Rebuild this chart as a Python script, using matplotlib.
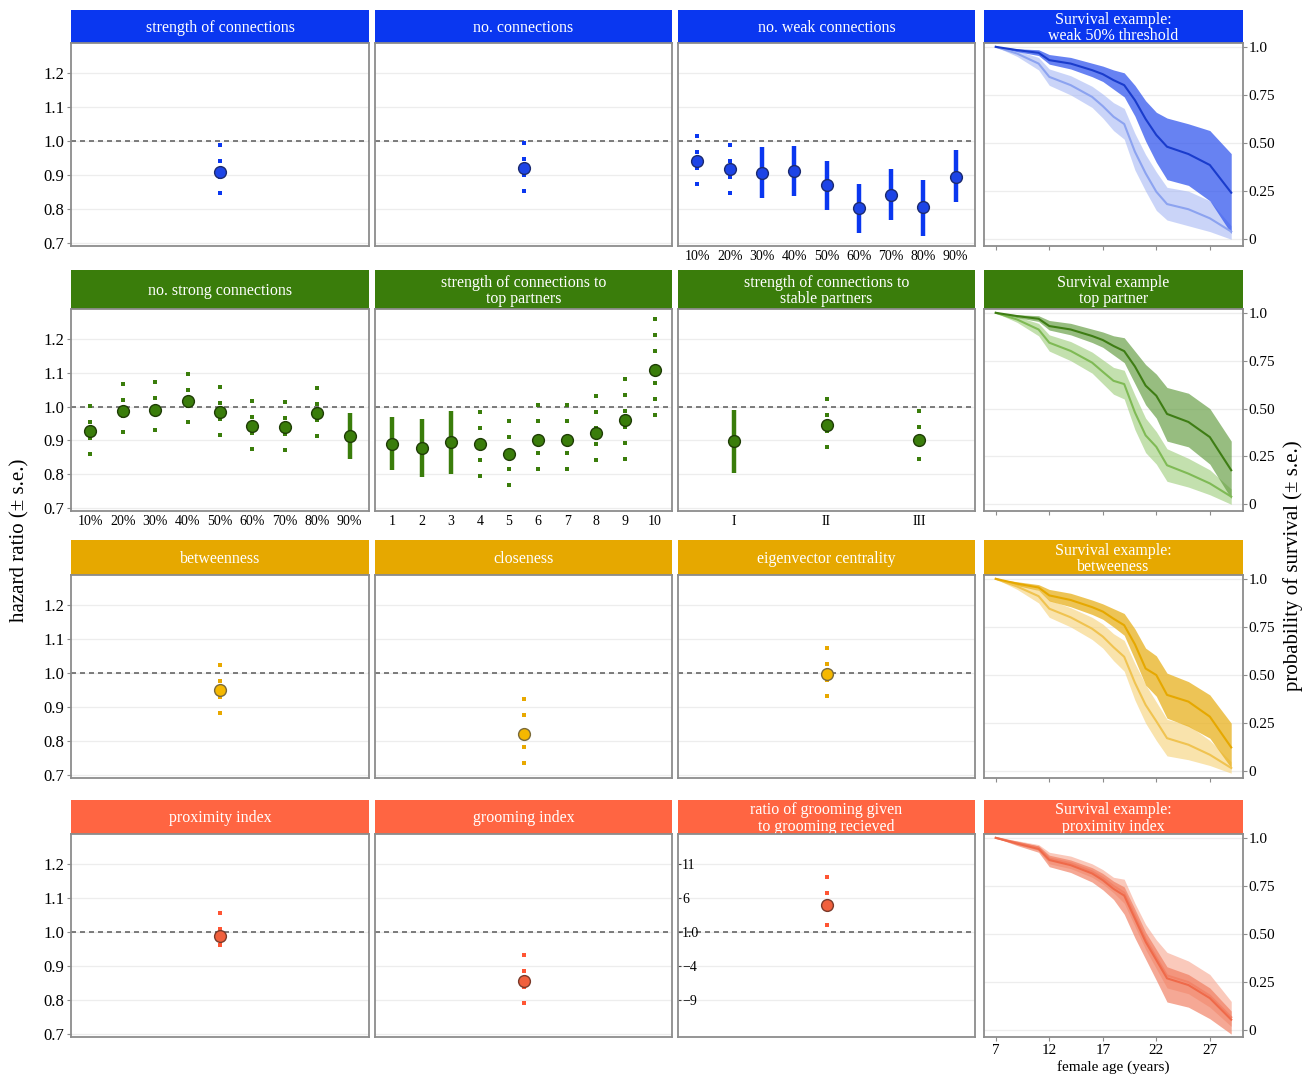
import numpy as np
import matplotlib.pyplot as plt

plt.rcParams['font.family'] = ['Liberation Serif', 'DejaVu Serif']

W, H = 1314, 1077

# ---------------- data ----------------
pct_labels = ['10%', '20%', '30%', '40%', '50%', '60%', '70%', '80%', '90%']
top_labels = ['1', '2', '3', '4', '5', '6', '7', '8', '9', '10']
stable_labels = ['I', 'II', 'III']

# hazard ratio panels: estimate, lower, upper, solid (True) or dotted bar
strength_est, strength_lo, strength_hi = [0.91], [0.84], [0.99]
nconn_est, nconn_lo, nconn_hi = [0.92], [0.85], [0.995]

weak_est = [0.941, 0.917, 0.907, 0.913, 0.871, 0.802, 0.841, 0.804, 0.895]
weak_lo = [0.871, 0.845, 0.831, 0.838, 0.797, 0.728, 0.768, 0.721, 0.819]
weak_hi = [1.015, 0.988, 0.983, 0.987, 0.942, 0.874, 0.918, 0.885, 0.974]
weak_solid = [False, False, True, True, True, True, True, True, True]

strong_est = [0.927, 0.986, 0.991, 1.018, 0.984, 0.943, 0.940, 0.980, 0.912]
strong_lo = [0.859, 0.925, 0.929, 0.955, 0.915, 0.873, 0.871, 0.911, 0.844]
strong_hi = [1.003, 1.068, 1.073, 1.098, 1.059, 1.017, 1.015, 1.056, 0.981]
strong_solid = [False] * 8 + [True]

top_est = [0.890, 0.876, 0.894, 0.890, 0.859, 0.902, 0.902, 0.922, 0.959, 1.109]
top_lo = [0.812, 0.791, 0.801, 0.793, 0.765, 0.812, 0.812, 0.839, 0.841, 0.971]
top_hi = [0.968, 0.963, 0.988, 0.984, 0.957, 1.005, 1.005, 1.032, 1.081, 1.259]
top_solid = [True, True, True] + [False] * 7

stable_est = [0.897, 0.945, 0.901]
stable_lo = [0.804, 0.881, 0.842]
stable_hi = [0.989, 1.024, 0.986]
stable_solid = [True, False, False]

betw_est, betw_lo, betw_hi = [0.95], [0.88], [1.024]
close_est, close_lo, close_hi = [0.821], [0.731], [0.923]
eigen_est, eigen_lo, eigen_hi = [0.996], [0.927], [1.073]
prox_est, prox_lo, prox_hi = [0.988], [0.955], [1.056]
groom_est, groom_lo, groom_hi = [0.856], [0.787], [0.931]
ratio_est, ratio_lo, ratio_hi = [4.97], [1.9], [9.1]

hr_ticks = [0.7, 0.8, 0.9, 1.0, 1.1, 1.2]
hr_ticklabels = ['0.7', '0.8', '0.9', '1.0', '1.1', '1.2']
ratio_ticks = [-9, -4, 1, 6, 11]
ratio_ticklabels = ['\u22129', '\u22124', '1.0', '6', '11']

# survival examples
ages = [7, 9, 11, 12, 14, 16, 17, 18, 19, 20, 21, 22, 23, 25, 27, 29]
age_ticks = [7, 12, 17, 22, 27]
surv_ticks = [0, 0.25, 0.5, 0.75, 1.0]
surv_ticklabels = ['0', '0.25', '0.50', '0.75', '1.0']

blue_dark = [1.0, 0.983, 0.969, 0.931, 0.913, 0.879, 0.858, 0.827, 0.801, 0.723, 0.625, 0.542, 0.481, 0.443, 0.386, 0.242]
blue_dark_hi = [1.0, 0.99, 0.985, 0.96, 0.945, 0.915, 0.90, 0.88, 0.865, 0.80, 0.72, 0.66, 0.63, 0.60, 0.565, 0.445]
blue_dark_lo = [1.0, 0.975, 0.955, 0.91, 0.885, 0.845, 0.82, 0.78, 0.74, 0.64, 0.51, 0.40, 0.31, 0.28, 0.20, 0.03]
blue_light = [1.0, 0.965, 0.913, 0.844, 0.801, 0.740, 0.692, 0.637, 0.599, 0.455, 0.343, 0.247, 0.183, 0.156, 0.109, 0.040]
blue_light_hi = [1.0, 0.98, 0.945, 0.885, 0.85, 0.795, 0.755, 0.71, 0.68, 0.55, 0.44, 0.35, 0.27, 0.25, 0.20, 0.07]
blue_light_lo = [1.0, 0.95, 0.88, 0.80, 0.75, 0.685, 0.63, 0.565, 0.52, 0.36, 0.25, 0.15, 0.10, 0.07, 0.04, 0.0]

green_dark = [1.0, 0.983, 0.969, 0.931, 0.913, 0.879, 0.858, 0.827, 0.80, 0.72, 0.62, 0.567, 0.472, 0.43, 0.351, 0.178]
green_dark_hi = [1.0, 0.99, 0.985, 0.96, 0.945, 0.915, 0.90, 0.88, 0.87, 0.80, 0.73, 0.68, 0.61, 0.58, 0.50, 0.33]
green_dark_lo = [1.0, 0.975, 0.955, 0.91, 0.885, 0.845, 0.82, 0.78, 0.74, 0.63, 0.52, 0.45, 0.33, 0.30, 0.21, 0.03]
green_light = [1.0, 0.965, 0.913, 0.844, 0.801, 0.740, 0.692, 0.645, 0.628, 0.48, 0.36, 0.30, 0.204, 0.16, 0.109, 0.04]
green_light_hi = [1.0, 0.98, 0.945, 0.885, 0.85, 0.795, 0.755, 0.715, 0.70, 0.57, 0.45, 0.38, 0.29, 0.24, 0.18, 0.08]
green_light_lo = [1.0, 0.95, 0.88, 0.80, 0.75, 0.685, 0.63, 0.575, 0.55, 0.39, 0.27, 0.21, 0.12, 0.09, 0.05, 0.0]

yellow_dark = [1.0, 0.975, 0.955, 0.914, 0.89, 0.853, 0.83, 0.793, 0.759, 0.66, 0.534, 0.50, 0.397, 0.362, 0.284, 0.124]
yellow_dark_hi = [1.0, 0.985, 0.97, 0.945, 0.925, 0.89, 0.87, 0.845, 0.82, 0.74, 0.64, 0.60, 0.51, 0.466, 0.397, 0.25]
yellow_dark_lo = [1.0, 0.965, 0.94, 0.885, 0.855, 0.815, 0.79, 0.75, 0.707, 0.58, 0.448, 0.39, 0.276, 0.233, 0.172, 0.017]
yellow_light = [1.0, 0.96, 0.91, 0.845, 0.80, 0.741, 0.70, 0.645, 0.595, 0.46, 0.345, 0.26, 0.172, 0.138, 0.086, 0.017]
yellow_light_hi = [1.0, 0.975, 0.94, 0.89, 0.85, 0.80, 0.765, 0.715, 0.68, 0.56, 0.45, 0.36, 0.27, 0.24, 0.16, 0.05]
yellow_light_lo = [1.0, 0.945, 0.875, 0.80, 0.75, 0.685, 0.64, 0.575, 0.52, 0.37, 0.25, 0.16, 0.08, 0.06, 0.03, -0.01]

red_a = [1.0, 0.97, 0.942, 0.885, 0.858, 0.815, 0.78, 0.735, 0.70, 0.58, 0.46, 0.365, 0.27, 0.235, 0.167, 0.055]
red_a_hi = [1.0, 0.98, 0.958, 0.91, 0.885, 0.845, 0.815, 0.775, 0.745, 0.63, 0.51, 0.42, 0.33, 0.29, 0.22, 0.10]
red_a_lo = [1.0, 0.96, 0.925, 0.85, 0.82, 0.77, 0.73, 0.68, 0.603, 0.48, 0.37, 0.26, 0.147, 0.12, 0.06, -0.02]
red_b = [1.0, 0.975, 0.95, 0.893, 0.868, 0.826, 0.792, 0.75, 0.715, 0.598, 0.475, 0.38, 0.285, 0.25, 0.18, 0.068]
red_b_hi = [1.0, 0.985, 0.965, 0.925, 0.905, 0.865, 0.835, 0.795, 0.785, 0.66, 0.55, 0.47, 0.405, 0.36, 0.29, 0.15]
red_b_lo = [1.0, 0.965, 0.935, 0.865, 0.84, 0.795, 0.76, 0.715, 0.66, 0.54, 0.42, 0.32, 0.22, 0.19, 0.12, 0.02]

# colours per row: strip, bar, point fill, point edge
blue = ('#0a37f0', '#0a37f0', '#1d44e6', '#1b2a70')
green = ('#3a7d0b', '#3a7d0b', '#3a7d0b', '#1e3d05')
yellow = ('#e6a800', '#e8a800', '#f5b800', '#7a6a3a')
red = ('#ff6542', '#ff5533', '#f0603d', '#7a3a2a')

# ---------------- layout (pixels) ----------------
cols = [(71, 369), (375, 672), (678, 975), (984, 1243)]
rows = [(10, 43, 246), (270, 309, 511), (540, 575, 778), (800, 834, 1037)]
dot_step_px = 16

fig = plt.figure(figsize=(W / 100, H / 100), dpi=100)
border = '#8c8c8c'


def rect(x0, x1, y0, y1):
    return [x0 / W, 1 - y1 / H, (x1 - x0) / W, (y1 - y0) / H]


def add_strip(c, r, color, text):
    x0, x1 = cols[c]
    s0, s1, _ = rows[r]
    ax = fig.add_axes(rect(x0, x1, s0, s1))
    ax.set_facecolor(color)
    ax.set_xticks([])
    ax.set_yticks([])
    for sp in ax.spines.values():
        sp.set_visible(False)
    ax.text(0.5, 0.46, text, color='white', fontsize=11.5, ha='center', va='center',
            transform=ax.transAxes, linespacing=1.05)


def hr_panel(c, r, title, colors, est, lo, hi, solid=None, labels=None,
             ylim=(0.69, 1.29), ref=1.0, ticks=hr_ticks, ticklabels=None):
    x0, x1 = cols[c]
    _, p0, p1 = rows[r]
    add_strip(c, r, colors[0], title)
    ax = fig.add_axes(rect(x0, x1, p0, p1))
    n = len(est)
    xs = np.arange(1, n + 1)
    if solid is None:
        solid = [False] * n
    ax.set_xlim(0.4, n + 0.6)
    ax.set_ylim(*ylim)
    step = dot_step_px * (ylim[1] - ylim[0]) / (p1 - p0)
    for t in ticks:
        ax.axhline(t, color='#ededed', lw=0.9, zorder=0)
    ax.axhline(ref, color='#666666', lw=1.2, dashes=(3, 2.4), zorder=1)
    for x, e, l, h, s in zip(xs, est, lo, hi, solid):
        if s:
            ax.plot([x, x], [l, h], color=colors[1], lw=3.2, solid_capstyle='butt', zorder=2)
        else:
            dots = np.arange(h, l - step * 0.3, -step)
            ax.plot(np.full(len(dots), x), dots, 's', ms=3.0, mew=0, color=colors[1], zorder=2)
    ax.plot(xs, est, 'o', ms=8.5, mfc=colors[2], mec=colors[3], mew=1.0, zorder=3)
    for sp in ax.spines.values():
        sp.set_color(border)
        sp.set_linewidth(1.3)
    if labels is not None:
        ax.set_xticks(xs)
        ax.set_xticklabels(labels)
        ax.tick_params(axis='x', length=0, labelsize=10, pad=3)
    else:
        ax.set_xticks([])
    ax.set_yticks(ticks)
    if c == 0:
        ax.set_yticklabels(hr_ticklabels)
        ax.tick_params(axis='y', length=3, color=border, labelsize=12, pad=2)
    elif ticklabels is not None:
        ax.set_yticklabels(ticklabels)
        ax.tick_params(axis='y', direction='in', length=2, color='#444444',
                       labelsize=10, pad=-3)
        for lab in ax.get_yticklabels():
            lab.set_ha('left')
    else:
        ax.tick_params(axis='y', length=0, labelleft=False)
    return ax


def surv_panel(r, title, color, dark, dark_lo, dark_hi, light, light_lo, light_hi, cdark, clight):
    x0, x1 = cols[3]
    _, p0, p1 = rows[r]
    add_strip(3, r, color, title)
    ax = fig.add_axes(rect(x0, x1, p0, p1))
    ax.set_xlim(5.9, 30.1)
    ax.set_ylim(-0.035, 1.02)
    for t in surv_ticks:
        ax.axhline(t, color='#ededed', lw=0.9, zorder=0)
    ax.fill_between(ages, light_lo, light_hi, color=clight[0], alpha=clight[1], lw=0, zorder=1)
    ax.fill_between(ages, dark_lo, dark_hi, color=cdark[0], alpha=cdark[1], lw=0, zorder=2)
    ax.plot(ages, light, color=clight[2], lw=1.5, zorder=3)
    ax.plot(ages, dark, color=cdark[2], lw=1.5, zorder=4)
    for sp in ax.spines.values():
        sp.set_color(border)
        sp.set_linewidth(1.3)
    ax.yaxis.tick_right()
    ax.set_yticks(surv_ticks)
    ax.set_yticklabels(surv_ticklabels)
    ax.tick_params(axis='y', length=3, color=border, labelsize=11, pad=1)
    ax.set_xticks(age_ticks)
    ax.tick_params(axis='x', length=3, color=border, labelsize=11, pad=2)
    if r < 3:
        ax.set_xticklabels([])
    else:
        ax.set_xlabel('female age (years)', fontsize=11, labelpad=2)
    return ax


# ---------------- row 1 ----------------
hr_panel(0, 0, 'strength of connections', blue, strength_est, strength_lo, strength_hi)
hr_panel(1, 0, 'no. connections', blue, nconn_est, nconn_lo, nconn_hi)
hr_panel(2, 0, 'no. weak connections', blue, weak_est, weak_lo, weak_hi, weak_solid, pct_labels)
surv_panel(0, 'Survival example:\nweak 50% threshold', blue[0],
           blue_dark, blue_dark_lo, blue_dark_hi, blue_light, blue_light_lo, blue_light_hi,
           ('#2d52ee', 0.72, '#1a3ccc'), ('#9fb2f4', 0.55, '#8ca3f0'))

# ---------------- row 2 ----------------
hr_panel(0, 1, 'no. strong connections', green, strong_est, strong_lo, strong_hi, strong_solid, pct_labels)
hr_panel(1, 1, 'strength of connections to\ntop partners', green, top_est, top_lo, top_hi, top_solid, top_labels)
hr_panel(2, 1, 'strength of connections to\nstable partners', green, stable_est, stable_lo, stable_hi,
         stable_solid, stable_labels)
surv_panel(1, 'Survival example\ntop partner', green[0],
           green_dark, green_dark_lo, green_dark_hi, green_light, green_light_lo, green_light_hi,
           ('#5f9a3c', 0.65, '#3e7d14'), ('#9ccc78', 0.6, '#7fba55'))

# ---------------- row 3 ----------------
hr_panel(0, 2, 'betweenness', yellow, betw_est, betw_lo, betw_hi)
hr_panel(1, 2, 'closeness', yellow, close_est, close_lo, close_hi)
hr_panel(2, 2, 'eigenvector centrality', yellow, eigen_est, eigen_lo, eigen_hi)
surv_panel(2, 'Survival example:\nbetweeness', yellow[0],
           yellow_dark, yellow_dark_lo, yellow_dark_hi, yellow_light, yellow_light_lo, yellow_light_hi,
           ('#e8b11e', 0.75, '#e6a800'), ('#f6d480', 0.65, '#f0c350'))

# ---------------- row 4 ----------------
hr_panel(0, 3, 'proximity index', red, prox_est, prox_lo, prox_hi)
hr_panel(1, 3, 'grooming index', red, groom_est, groom_lo, groom_hi)
hr_panel(2, 3, 'ratio of grooming given\nto grooming recieved', red, ratio_est, ratio_lo, ratio_hi,
         ylim=(-14.5, 15.5), ref=1.0, ticks=ratio_ticks, ticklabels=ratio_ticklabels)
surv_panel(3, 'Survival example:\nproximity index', red[0],
           red_a, red_a_lo, red_a_hi, red_b, red_b_lo, red_b_hi,
           ('#f07a5c', 0.65, '#ef6a4a'), ('#f7a58f', 0.6, '#f28368'))

fig.text(20 / W, 1 - 540 / H, 'hazard ratio (\u00b1 s.e.)', rotation=90, ha='center', va='center', fontsize=15)
fig.text(1293 / W, 1 - 566 / H, 'probability of survival (\u00b1 s.e.)', rotation=90, ha='center',
         va='center', fontsize=15)

fig.savefig('out.png', dpi=100)
